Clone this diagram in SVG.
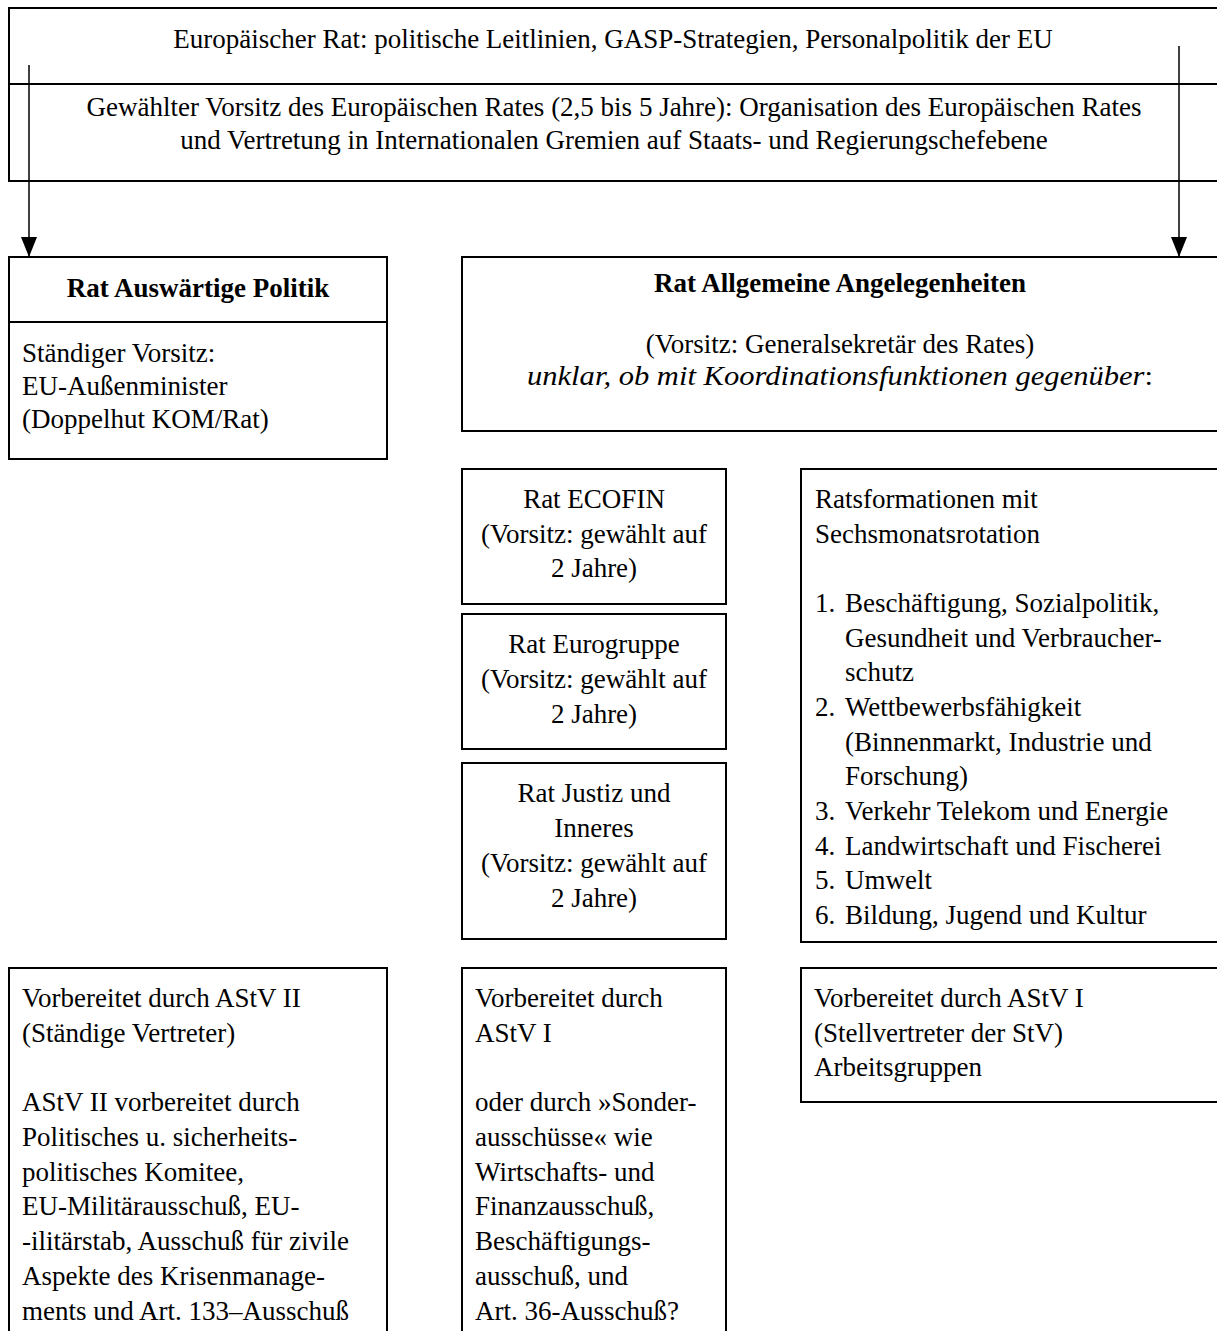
<svg xmlns="http://www.w3.org/2000/svg" width="1217" height="1331" viewBox="0 0 1217 1331">
<style>
.box{fill:#fff;stroke:#000;stroke-width:2}
.ln{stroke:#000;stroke-width:2;fill:none}
.con{stroke:#000;stroke-width:1.5;fill:none}
text{font-family:"Liberation Serif","Times New Roman",serif;font-size:27px;fill:#000}
.c{text-anchor:middle}
.b{font-weight:bold}
.i{font-style:italic}
</style>
<defs>
<marker id="ah" markerWidth="20" markerHeight="16" refX="20" refY="8" orient="auto" markerUnits="userSpaceOnUse" viewBox="0 0 20 16">
<path d="M0,0 L20,8 L0,16 Z" fill="#000"/>
</marker>
</defs>
<rect width="1217" height="1331" fill="#fff"/>

<g id="europaeischer-rat">
<rect class="box" x="9" y="8" width="1220" height="173"/>
<line class="ln" x1="9" y1="84" x2="1229" y2="84"/>
<text class="c" x="613" y="48">Europäischer Rat: politische Leitlinien, GASP-Strategien, Personalpolitik der EU</text>
<text class="c" x="614" y="116">Gewählter Vorsitz des Europäischen Rates (2,5 bis 5 Jahre): Organisation des Europäischen Rates</text>
<text class="c" x="614" y="149">und Vertretung in Internationalen Gremien auf Staats- und Regierungschefebene</text>
</g>

<g id="connectors">
<line class="con" x1="29" y1="65" x2="29" y2="257" marker-end="url(#ah)"/>
<line class="con" x1="1179" y1="46" x2="1179" y2="257" marker-end="url(#ah)"/>
</g>

<g id="rat-auswaertige-politik">
<rect class="box" x="9" y="257" width="378" height="202"/>
<line class="ln" x1="9" y1="322" x2="387" y2="322"/>
<text class="c b" x="198" y="297">Rat Auswärtige Politik</text>
<text x="22" y="362">Ständiger Vorsitz:</text>
<text x="22" y="395">EU-Außenminister</text>
<text x="22" y="428">(Doppelhut KOM/Rat)</text>
</g>

<g id="rat-allgemeine-angelegenheiten">
<rect class="box" x="462" y="257" width="770" height="174"/>
<text class="c b" x="840" y="292">Rat Allgemeine Angelegenheiten</text>
<text class="c" x="840" y="353">(Vorsitz: Generalsekretär des Rates)</text>
<text class="c" x="840" y="385" textLength="626" lengthAdjust="spacingAndGlyphs"><tspan class="i">unklar, ob mit Koordinationsfunktionen gegenüber</tspan>:</text>
</g>

<g id="rat-ecofin">
<rect class="box" x="462" y="469" width="264" height="135"/>
<text class="c" x="594" y="508">Rat ECOFIN</text>
<text class="c" x="594" y="543">(Vorsitz: gewählt auf</text>
<text class="c" x="594" y="577">2 Jahre)</text>
</g>

<g id="rat-eurogruppe">
<rect class="box" x="462" y="614" width="264" height="135"/>
<text class="c" x="594" y="653">Rat Eurogruppe</text>
<text class="c" x="594" y="688">(Vorsitz: gewählt auf</text>
<text class="c" x="594" y="723">2 Jahre)</text>
</g>

<g id="rat-justiz">
<rect class="box" x="462" y="763" width="264" height="176"/>
<text class="c" x="594" y="802">Rat Justiz und</text>
<text class="c" x="594" y="837">Inneres</text>
<text class="c" x="594" y="872">(Vorsitz: gewählt auf</text>
<text class="c" x="594" y="907">2 Jahre)</text>
</g>

<g id="ratsformationen">
<rect class="box" x="801" y="469" width="430" height="473"/>
<text x="815" y="508">Ratsformationen mit</text>
<text x="815" y="543">Sechsmonatsrotation</text>
<text x="815" y="612">1.</text><text x="845" y="612">Beschäftigung, Sozialpolitik,</text>
<text x="845" y="647">Gesundheit und Verbraucher-</text>
<text x="845" y="681">schutz</text>
<text x="815" y="716">2.</text><text x="845" y="716">Wettbewerbsfähigkeit</text>
<text x="845" y="751">(Binnenmarkt, Industrie und</text>
<text x="845" y="785">Forschung)</text>
<text x="815" y="820">3.</text><text x="845" y="820">Verkehr Telekom und Energie</text>
<text x="815" y="855">4.</text><text x="845" y="855">Landwirtschaft und Fischerei</text>
<text x="815" y="889">5.</text><text x="845" y="889">Umwelt</text>
<text x="815" y="924">6.</text><text x="845" y="924">Bildung, Jugend und Kultur</text>
</g>

<g id="astv-ii">
<rect class="box" x="9" y="968" width="378" height="380"/>
<text x="22" y="1007">Vorbereitet durch AStV II</text>
<text x="22" y="1042">(Ständige Vertreter)</text>
<text x="22" y="1111">AStV II vorbereitet durch</text>
<text x="22" y="1146">Politisches u. sicherheits-</text>
<text x="22" y="1181">politisches Komitee,</text>
<text x="22" y="1215">EU-Militärausschuß, EU-</text>
<text x="22" y="1250">-ilitärstab, Ausschuß für zivile</text>
<text x="22" y="1285">Aspekte des Krisenmanage-</text>
<text x="22" y="1320">ments und Art. 133–Ausschuß</text>
</g>

<g id="astv-i-sonder">
<rect class="box" x="462" y="968" width="264" height="380"/>
<text x="475" y="1007">Vorbereitet durch</text>
<text x="475" y="1042">AStV I</text>
<text x="475" y="1111">oder durch »Sonder-</text>
<text x="475" y="1146">ausschüsse« wie</text>
<text x="475" y="1181">Wirtschafts- und</text>
<text x="475" y="1215">Finanzausschuß,</text>
<text x="475" y="1250">Beschäftigungs-</text>
<text x="475" y="1285">ausschuß, und</text>
<text x="475" y="1320">Art. 36-Ausschuß?</text>
</g>

<g id="astv-i-arbeitsgruppen">
<rect class="box" x="801" y="968" width="430" height="134"/>
<text x="814" y="1007">Vorbereitet durch AStV I</text>
<text x="814" y="1042">(Stellvertreter der StV)</text>
<text x="814" y="1076">Arbeitsgruppen</text>
</g>
</svg>
